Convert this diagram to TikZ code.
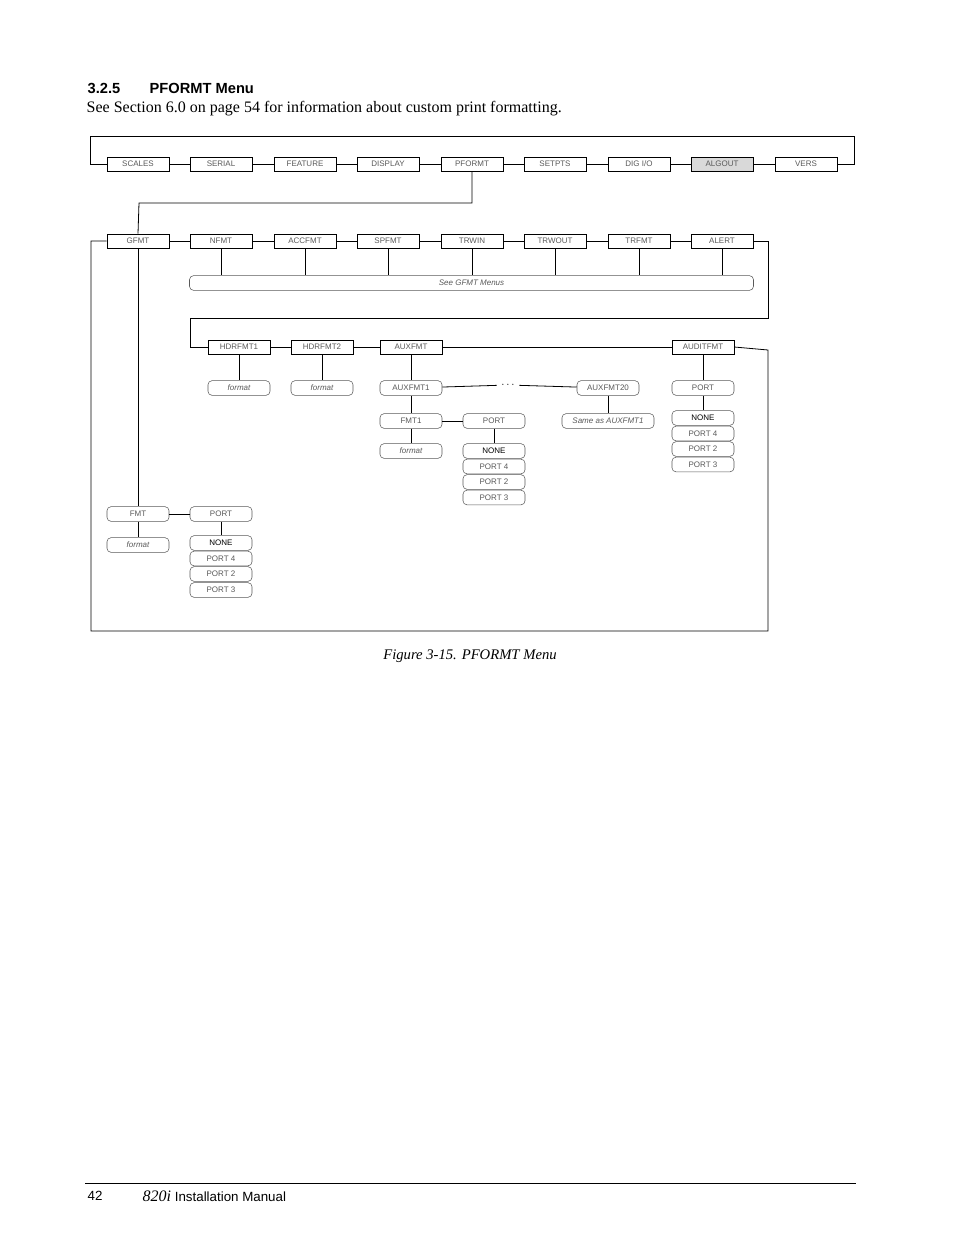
\documentclass[tikz,border=0pt]{standalone}
\usepackage{fontspec}
\setmainfont{Liberation Serif}
\setsansfont{Liberation Sans}
\usetikzlibrary{positioning}
\definecolor{txtgray}{gray}{0.35}
\definecolor{boxgray}{gray}{0.85}
\tikzset{M/.style={draw, rectangle, minimum width=46.5pt, minimum height=10.5pt, inner sep=0pt, font=\sffamily\fontsize{6}{6}\selectfont, text=txtgray}}
\tikzset{R/.style={draw=txtgray, rounded corners=3pt, minimum width=46.5pt, minimum height=11pt, inner sep=0pt, font=\sffamily\fontsize{6}{6}\selectfont, text=txtgray}}
\tikzset{F/.style={R, font=\sffamily\itshape\fontsize{6}{6}\selectfont}}
\tikzset{L/.style={draw, line width=0.6pt}}
\begin{document}
\begin{tikzpicture}[x=0.75pt, y=-0.75pt]
\useasboundingbox (0,0) rectangle (954,1235);
%% Page text
\node[anchor=west, font=\sffamily\bfseries\fontsize{11}{11}\selectfont] (sec) at (83,88) {3.2.5\hspace{22pt}PFORMT Menu};
\node[anchor=west, font=\fontsize{12}{12}\selectfont] (intro) at (82,109) {See Section 6.0 on page 54 for information about custom print formatting.};
\node[font=\itshape\fontsize{11}{11}\selectfont] (cap) at (470,656) {Figure 3-15. PFORMT Menu};
\coordinate (f1) at (85,1183);
\coordinate (f2) at (856,1183);
\draw[line width=0.5pt] (f1) -- (f2);
\node[anchor=west, font=\sffamily\fontsize{10}{10}\selectfont] (pg) at (83,1196) {42};
\node[anchor=west, font=\sffamily\fontsize{10}{10}\selectfont] (man) at (138,1196) {{\rmfamily\itshape\fontsize{12}{12}\selectfont 820i} Installation Manual};
%% Top row
\node[M] (scales) at (138,164) {SCALES};
\node[M] (serial) at (221,164) {SERIAL};
\node[M] (feature) at (305,164) {FEATURE};
\node[M] (display) at (388,164) {DISPLAY};
\node[M] (pformt) at (472,164) {PFORMT};
\node[M] (setpts) at (555,164) {SETPTS};
\node[M] (digio) at (639,164) {DIG I/O};
\node[M, fill=boxgray] (algout) at (722,164) {ALGOUT};
\node[M] (vers) at (806,164) {VERS};
%% Second row
\node[M] (gfmt) at (138,241) {GFMT};
\node[M] (nfmt) at (221,241) {NFMT};
\node[M] (accfmt) at (305,241) {ACCFMT};
\node[M] (spfmt) at (388,241) {SPFMT};
\node[M] (trwin) at (472,241) {TRWIN};
\node[M] (trwout) at (555,241) {TRWOUT};
\node[M] (trfmt) at (639,241) {TRFMT};
\node[M] (alert) at (722,241) {ALERT};
\node[F, minimum width=423pt] (see) at (471.5,283) {See GFMT Menus};
%% Third row
\node[M] (hdr1) at (239,347) {HDRFMT1};
\node[M] (hdr2) at (322,347) {HDRFMT2};
\node[M] (aux) at (411,347) {AUXFMT};
\node[M] (audit) at (703,347) {AUDITFMT};
\node[F] (hf1) at (239,388) {format};
\node[F] (hf2) at (322,388) {format};
\node[R] (aux1) at (411,388) {AUXFMT1};
\node[font=\sffamily\fontsize{8}{8}\selectfont] (dots) at (508,385) {$\cdots$};
\node[R] (aux20) at (608,388) {AUXFMT20};
\node[F, minimum width=69pt] (same) at (608,421) {Same as AUXFMT1};
\node[R] (fmt1) at (411,421) {FMT1};
\node[F] (ff1) at (411,451) {format};
\node[R] (aport) at (494,421) {PORT};
\node[R, text=black] (anone) at (494,451) {NONE};
\node[R] (ap4) at (494,466.5) {PORT 4};
\node[R] (ap2) at (494,482) {PORT 2};
\node[R] (ap3) at (494,497.5) {PORT 3};
\node[R] (dport) at (703,388) {PORT};
\node[R, text=black] (dnone) at (703,418) {NONE};
\node[R] (dp4) at (703,433.5) {PORT 4};
\node[R] (dp2) at (703,449) {PORT 2};
\node[R] (dp3) at (703,464.5) {PORT 3};
%% GFMT branch
\node[R] (fmt) at (138,514) {FMT};
\node[F] (ff) at (138,545) {format};
\node[R] (gport) at (221,514) {PORT};
\node[R, text=black] (gnone) at (221,543) {NONE};
\node[R] (gp4) at (221,558.5) {PORT 4};
\node[R] (gp2) at (221,574) {PORT 2};
\node[R] (gp3) at (221,590) {PORT 3};
%% Edges
\foreach \a/\b in {scales/serial, serial/feature, feature/display, display/pformt, pformt/setpts, setpts/digio, digio/algout, algout/vers, gfmt/nfmt, nfmt/accfmt, accfmt/spfmt, spfmt/trwin, trwin/trwout, trwout/trfmt, trfmt/alert, hdr1/hdr2, hdr2/aux, aux/audit, fmt1/aport, fmt/gport}
  \draw[L] (\a) -- (\b);
\foreach \a/\b in {hdr1/hf1, hdr2/hf2, aux/aux1, aux1/fmt1, fmt1/ff1, aport/anone, aux20/same, audit/dport, dport/dnone, gfmt/fmt, fmt/ff, gport/gnone}
  \draw[L] (\a) -- (\b);
\foreach \n in {nfmt, accfmt, spfmt, trwin, trwout, trfmt, alert}
  \draw[L] (\n.south) -- (\n.south |- see.north);
\draw[L] (aux1) -- (dots);
\draw[L] (dots) -- (aux20);
\draw[L] (scales.west) -- ++(-16,0) |- (854,136) |- (vers.east);
\draw[L] (pformt.south) |- (139,203) -- (gfmt.north);
\draw[L] (alert.east) -| (768,318) -| (190,347) -- (hdr1.west);
\draw[L] (gfmt.west) -| (91,631) -| (768,350) -- (audit.east);
\end{tikzpicture}
\end{document}
